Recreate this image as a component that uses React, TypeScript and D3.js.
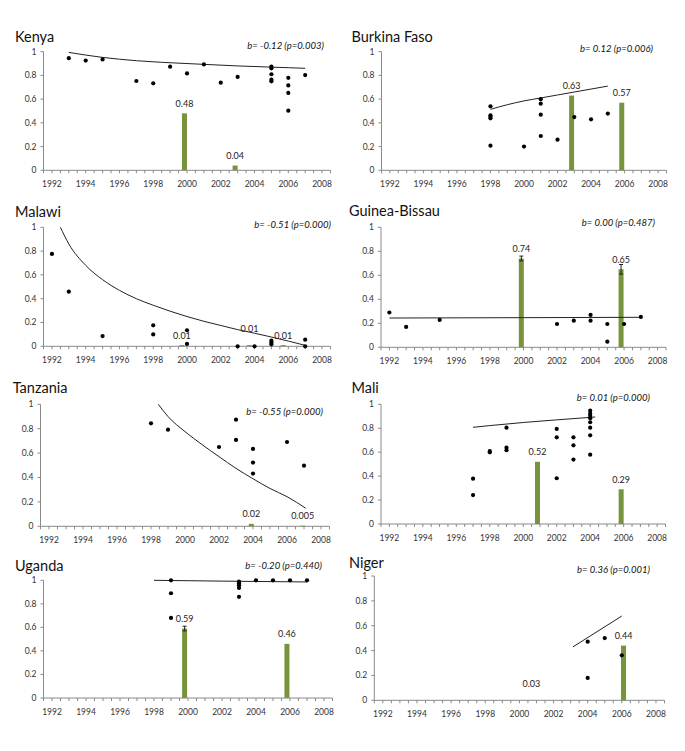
import React from "react";
import * as d3 from "d3";

type Pt = [number, number];
type Bar = { year: number; value: number; label: string; err?: number; hidden?: boolean };

const xLabelYears = [1992, 1994, 1996, 1998, 2000, 2002, 2004, 2006, 2008];
const yTickValues = [0, 0.2, 0.4, 0.6, 0.8, 1];
const yTickLabels = ["0", "0.2", "0.4", "0.6", "0.8", "1"];

// ---- Kenya
const kenyaPoints: Pt[] = [
  [1993, 0.945], [1994, 0.925], [1995, 0.935], [1997, 0.753], [1998, 0.733],
  [1999, 0.874], [2000, 0.817], [2001, 0.893], [2002, 0.739], [2003, 0.787],
  [2005, 0.874], [2005, 0.86], [2005, 0.81], [2005, 0.764], [2005, 0.75],
  [2006, 0.78], [2006, 0.716], [2006, 0.652], [2006, 0.503], [2007, 0.803],
];
const kenyaTrend: Pt[] = [
  [1993, 0.994], [1995, 0.952], [1997, 0.924], [2000, 0.9], [2003, 0.88], [2006, 0.865], [2007, 0.86],
];
const kenyaBars: Bar[] = [
  { year: 1999.85, value: 0.48, label: "0.48" },
  { year: 2002.85, value: 0.04, label: "0.04" },
];

// ---- Burkina Faso
const burkinaPoints: Pt[] = [
  [1998, 0.539], [1998, 0.463], [1998, 0.452], [1998, 0.438], [1998, 0.208],
  [2000, 0.2], [2001, 0.6], [2001, 0.562], [2001, 0.469], [2001, 0.289],
  [2002, 0.258], [2003, 0.449], [2004, 0.43], [2005, 0.478],
];
const burkinaTrend: Pt[] = [
  [1998, 0.514], [1999, 0.553], [2000, 0.585], [2001, 0.61], [2002, 0.635], [2003, 0.66], [2004, 0.685], [2005, 0.71],
];
const burkinaBars: Bar[] = [
  { year: 2002.84, value: 0.63, label: "0.63" },
  { year: 2005.83, value: 0.57, label: "0.57" },
];

// ---- Malawi
const malawiPoints: Pt[] = [
  [1992, 0.776], [1993, 0.459], [1995, 0.086], [1998, 0.176], [1998, 0.1],
  [2000, 0.135], [2000, 0.02], [2003, 0], [2004, 0],
  [2005, 0.047], [2005, 0.031], [2005, 0.017], [2007, 0.056], [2007, 0],
];
const malawiTrend: Pt[] = [
  [1992.5, 1.0], [1993, 0.86], [1994, 0.68], [1995, 0.56], [1996, 0.47], [1997, 0.4], [1998, 0.345],
  [1999, 0.295], [2000, 0.25], [2001, 0.21], [2002, 0.175], [2003, 0.14], [2004, 0.11],
  [2005, 0.078], [2006, 0.044], [2007, 0.008],
];
const malawiBars: Bar[] = [
  { year: 1999.7, value: 0.01, label: "0.01" },
  { year: 2003.7, value: 0.01, label: "0.01" },
  { year: 2005.7, value: 0.01, label: "0.01" },
];

// ---- Guinea-Bissau
const guineaPoints: Pt[] = [
  [1992, 0.29], [1993, 0.17], [1995, 0.228], [2002, 0.194], [2003, 0.222],
  [2004, 0.27], [2004, 0.222], [2005, 0.194], [2005, 0.047], [2006, 0.194], [2007, 0.253],
];
const guineaTrend: Pt[] = [[1992, 0.244], [2000, 0.247], [2007, 0.25]];
const guineaBars: Bar[] = [
  { year: 1999.87, value: 0.74, label: "0.74", err: 0.02 },
  { year: 2005.82, value: 0.65, label: "0.65", err: 0.04 },
];

// ---- Tanzania
const tanzaniaPoints: Pt[] = [
  [1998, 0.844], [1999, 0.792], [2002, 0.65], [2003, 0.874], [2003, 0.708],
  [2004, 0.634], [2004, 0.522], [2004, 0.432], [2006, 0.691], [2007, 0.497],
];
const tanzaniaTrend: Pt[] = [
  [1998.43, 1.0], [1999, 0.9], [2000, 0.776], [2001, 0.67], [2002, 0.571], [2003, 0.475],
  [2004, 0.39], [2005, 0.31], [2006, 0.243], [2007.1, 0.148],
];
const tanzaniaBars: Bar[] = [
  { year: 2003.9, value: 0.02, label: "0.02" },
  { year: 2006.92, value: 0.005, label: "0.005" },
];

// ---- Mali
const maliPoints: Pt[] = [
  [1997, 0.379], [1997, 0.242], [1998, 0.61], [1998, 0.599],
  [1999, 0.805], [1999, 0.638], [1999, 0.616],
  [2002, 0.794], [2002, 0.724], [2002, 0.382],
  [2003, 0.724], [2003, 0.657], [2003, 0.538],
  [2004, 0.947], [2004, 0.922], [2004, 0.903], [2004, 0.883], [2004, 0.85], [2004, 0.805], [2004, 0.741], [2004, 0.579],
];
const maliTrend: Pt[] = [[1997, 0.808], [1998, 0.822], [2000, 0.848], [2002, 0.87], [2004.3, 0.894]];
const maliBars: Bar[] = [
  { year: 2000.85, value: 0.52, label: "0.52" },
  { year: 2005.85, value: 0.29, label: "0.29" },
];

// ---- Uganda
const ugandaPoints: Pt[] = [
  [1999, 1.0], [1999, 0.89], [1999, 0.68],
  [2003, 0.99], [2003, 0.975], [2003, 0.958], [2003, 0.935], [2003, 0.86],
  [2004, 1.0], [2005, 1.0], [2006, 1.0], [2007, 1.0],
];
const ugandaTrend: Pt[] = [[1998, 1.0], [2002, 0.993], [2007, 0.986]];
const ugandaBars: Bar[] = [
  { year: 1999.8, value: 0.59, label: "0.59", err: 0.02 },
  { year: 2005.82, value: 0.46, label: "0.46" },
];

// ---- Niger
const nigerPoints: Pt[] = [[2004, 0.472], [2004, 0.18], [2005, 0.501], [2006, 0.362]];
const nigerTrend: Pt[] = [[2003.14, 0.43], [2006, 0.678]];
const nigerBars: Bar[] = [
  { year: 2000.7, value: 0.03, label: "0.03", hidden: true },
  { year: 2006.1, value: 0.44, label: "0.44" },
];

const countries = ["Kenya", "Burkina Faso", "Malawi", "Guinea-Bissau", "Tanzania", "Mali", "Uganda", "Niger"];
const slopeNotes = [
  "b= -0.12 (p=0.003)", "b= 0.12 (p=0.006)", "b= -0.51 (p=0.000)", "b= 0.00 (p=0.487)",
  "b= -0.55 (p=0.000)", "b= 0.01 (p=0.000)", "b= -0.20 (p=0.440)", "b= 0.36 (p=0.001)",
];
const pointSets = [kenyaPoints, burkinaPoints, malawiPoints, guineaPoints, tanzaniaPoints, maliPoints, ugandaPoints, nigerPoints];
const trendSets = [kenyaTrend, burkinaTrend, malawiTrend, guineaTrend, tanzaniaTrend, maliTrend, ugandaTrend, nigerTrend];
const barSets = [kenyaBars, burkinaBars, malawiBars, guineaBars, tanzaniaBars, maliBars, ugandaBars, nigerBars];

// ---- layout (pixel frames of each panel)
const frames = [
  { x0: 43.5, x1: 330.5, yTop: 51.7, yBase: 170.3, tx: 15, ty: 41.7, nx: 324, ny: 49 },
  { x0: 381.5, x1: 666.5, yTop: 51.7, yBase: 170.3, tx: 351.5, ty: 41.7, nx: 653, ny: 52 },
  { x0: 43.5, x1: 330.5, yTop: 227.3, yBase: 346.3, tx: 15, ty: 217.3, nx: 331, ny: 228.3 },
  { x0: 381, x1: 666, yTop: 227.3, yBase: 347.3, tx: 349, ty: 215.7, nx: 655, ny: 225.5 },
  { x0: 40.5, x1: 329.5, yTop: 404.3, yBase: 526.3, tx: 12.7, ty: 393.3, nx: 323, ny: 415 },
  { x0: 381, x1: 665.5, yTop: 404.3, yBase: 524, tx: 351.5, ty: 393.3, nx: 650, ny: 400.5 },
  { x0: 43.5, x1: 332.5, yTop: 580.3, yBase: 698, tx: 15, ty: 571, nx: 322, ny: 569 },
  { x0: 374.3, x1: 664.5, yTop: 576, yBase: 700.3, tx: 349, ty: 568.3, nx: 650, ny: 573 },
];
// extra lift (px) for a few manually placed bar labels
const labelLift: Record<string, number> = { "2-1": 7, "7-0": 3 };

const FONT = "Lato, 'Open Sans', sans-serif";
const AXIS = "#8a8a8a";
const BAR = "#77933C";

function Panel({ idx }: { idx: number }) {
  const f = frames[idx];
  const x = d3.scaleLinear().domain([1991.5, 2008.5]).range([f.x0, f.x1]);
  const y = d3.scaleLinear().domain([0, 1]).range([f.yBase, f.yTop]);
  const line = d3
    .line<Pt>()
    .x((d) => x(d[0]))
    .y((d) => y(d[1]))
    .curve(d3.curveMonotoneX);
  const minorTicks = d3.range(1991.5, 2008.51, 0.5);
  const barW = 5;
  return (
    <g>
      <text x={f.tx} y={f.ty} fontFamily={FONT} fontSize={14.5} fill="#111">
        {countries[idx]}
      </text>
      <text
        x={f.nx}
        y={f.ny}
        fontFamily={FONT}
        fontSize={9.5}
        fontStyle="italic"
        textAnchor="end"
        fill="#111"
      >
        {slopeNotes[idx]}
      </text>
      {/* axes */}
      <line x1={f.x0} x2={f.x0} y1={y(1)} y2={y(0)} stroke={AXIS} strokeWidth={1} />
      <line x1={f.x0} x2={f.x1} y1={y(0)} y2={y(0)} stroke={AXIS} strokeWidth={1} />
      {yTickValues.map((v, i) => (
        <g key={"yt" + i}>
          <line x1={f.x0 - 3} x2={f.x0} y1={y(v)} y2={y(v)} stroke={AXIS} />
          <text
            x={f.x0 - 7}
            y={y(v)}
            dy="0.35em"
            textAnchor="end"
            fontFamily={FONT}
            fontSize={8.5}
            fill="#333"
          >
            {yTickLabels[i]}
          </text>
        </g>
      ))}
      {minorTicks.map((t, i) => (
        <line key={"xt" + i} x1={x(t)} x2={x(t)} y1={y(0)} y2={y(0) + 3} stroke={AXIS} />
      ))}
      {xLabelYears.map((yr) => (
        <text
          key={"xl" + yr}
          x={x(yr)}
          y={y(0) + 17}
          textAnchor="middle"
          fontFamily={FONT}
          fontSize={8.5}
          fill="#333"
        >
          {yr}
        </text>
      ))}
      {/* bars */}
      {barSets[idx].map((b, i) => (
        <g key={"b" + i}>
          <rect
            x={x(b.year) - barW / 2}
            y={y(b.value)}
            width={barW}
            height={Math.max(y(0) - y(b.value), 0)}
            fill={BAR}
            fillOpacity={b.hidden ? 0 : 1}
          />
          {b.err ? (
            <g stroke="#222" strokeWidth={1}>
              <line x1={x(b.year)} x2={x(b.year)} y1={y(b.value - b.err)} y2={y(b.value + b.err)} />
              <line x1={x(b.year) - 2} x2={x(b.year) + 2} y1={y(b.value + b.err)} y2={y(b.value + b.err)} />
              <line x1={x(b.year) - 2} x2={x(b.year) + 2} y1={y(b.value - b.err)} y2={y(b.value - b.err)} />
            </g>
          ) : null}
          <text
            x={x(b.year)}
            y={y(b.value) - 6.5 - (labelLift[idx + "-" + i] || 0)}
            textAnchor="middle"
            fontFamily={FONT}
            fontSize={9}
            fill="#222"
          >
            {b.label}
          </text>
        </g>
      ))}
      {/* trend */}
      <path d={line(trendSets[idx]) || ""} fill="none" stroke="#222" strokeWidth={1} />
      {/* points */}
      {pointSets[idx].map((p, i) => (
        <circle key={"p" + i} cx={x(p[0])} cy={y(p[1])} r={2.1} fill="#000" />
      ))}
    </g>
  );
}

export default function App() {
  return (
    <svg
      width={685}
      height={751}
      style={{ position: "absolute", left: 0, top: 0, background: "#fff" }}
    >
      <rect width={685} height={751} fill="#fff" />
      {countries.map((c, i) => (
        <Panel key={c} idx={i} />
      ))}
    </svg>
  );
}
